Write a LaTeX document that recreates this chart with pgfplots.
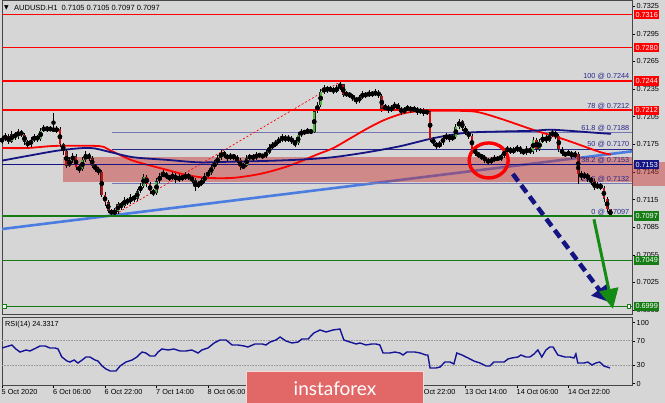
\documentclass[border=0pt]{standalone}
\usepackage{fontspec}
\setmainfont{Liberation Sans}
\newfontfamily\dvfont{DejaVu Sans}
\newfontfamily\logofont{Lato}
\usepackage{pgfplots}
\pgfplotsset{compat=1.18}
\usepackage{pgfplotstable}
\usetikzlibrary{arrows.meta}

\definecolor{bg}{RGB}{214,214,214}
\definecolor{mtred}{RGB}{255,0,0}
\definecolor{mtgreen}{RGB}{22,125,22}
\definecolor{mtnavy}{RGB}{20,20,130}
\definecolor{fibnavy}{RGB}{40,40,140}
\definecolor{fibslate}{RGB}{118,118,180}
\definecolor{trendblue}{RGB}{75,125,225}
\definecolor{bandred}{RGB}{200,45,45}
\definecolor{bull}{RGB}{70,185,55}
\definecolor{bear}{RGB}{200,15,15}
\definecolor{axgray}{RGB}{70,70,70}
\definecolor{logored}{RGB}{226,104,104}
\definecolor{rsiblue}{RGB}{20,20,150}
\definecolor{arrgreen}{RGB}{20,140,20}

\def\lab{\fontsize{7.3}{8}\selectfont}

% hourly AUDUSD candles, bar index i (one bar per hour)
\pgfplotstableread{
i o h l c
0 0.7178 0.7184 0.7176 0.7181
1 0.7181 0.7187 0.7179 0.7184
2 0.7184 0.7186 0.7175 0.7178
3 0.7178 0.7189 0.7176 0.7186
4 0.7186 0.7188 0.7180 0.7183
5 0.7183 0.7192 0.7181 0.7189
6 0.7189 0.7191 0.7183 0.7185
7 0.7185 0.7187 0.7174 0.7178
8 0.7178 0.7180 0.7171 0.7174
9 0.7174 0.7183 0.7172 0.7180
10 0.7180 0.7186 0.7178 0.7183
11 0.7183 0.7185 0.7178 0.7181
12 0.7181 0.7193 0.7179 0.7190
13 0.7190 0.7196 0.7188 0.7193
14 0.7193 0.7195 0.7188 0.7191
15 0.7191 0.7195 0.7189 0.7192
16 0.7192 0.7209 0.7188 0.7190
17 0.7190 0.7195 0.7187 0.7192
18 0.7192 0.7194 0.7172 0.7175
19 0.7175 0.7177 0.7164 0.7168
20 0.7168 0.7170 0.7149 0.7152
21 0.7152 0.7161 0.7150 0.7158
22 0.7158 0.7166 0.7155 0.7162
23 0.7162 0.7164 0.7147 0.7150
24 0.7150 0.7153 0.7144 0.7148
25 0.7148 0.7161 0.7146 0.7158
26 0.7158 0.7168 0.7156 0.7164
27 0.7164 0.7166 0.7157 0.7160
28 0.7160 0.7162 0.7149 0.7152
29 0.7152 0.7154 0.7145 0.7148
30 0.7148 0.7150 0.7142 0.7145
31 0.7145 0.7147 0.7118 0.7120
32 0.7120 0.7123 0.7108 0.7112
33 0.7112 0.7115 0.7100 0.7103
34 0.7103 0.7105 0.7097 0.7100
35 0.7100 0.7106 0.7098 0.7102
36 0.7102 0.7113 0.7099 0.7110
37 0.7110 0.7112 0.7104 0.7108
38 0.7108 0.7118 0.7106 0.7115
39 0.7115 0.7117 0.7109 0.7112
40 0.7112 0.7121 0.7110 0.7118
41 0.7118 0.7120 0.7113 0.7116
42 0.7116 0.7127 0.7114 0.7124
43 0.7124 0.7133 0.7122 0.7130
44 0.7130 0.7143 0.7128 0.7140
45 0.7140 0.7142 0.7129 0.7132
46 0.7132 0.7134 0.7121 0.7124
47 0.7124 0.7126 0.7119 0.7122
48 0.7122 0.7138 0.7120 0.7135
49 0.7135 0.7144 0.7133 0.7141
50 0.7141 0.7147 0.7139 0.7143
51 0.7143 0.7145 0.7137 0.7140
52 0.7140 0.7142 0.7135 0.7138
53 0.7138 0.7145 0.7136 0.7142
54 0.7142 0.7144 0.7133 0.7136
55 0.7136 0.7143 0.7134 0.7140
56 0.7140 0.7142 0.7135 0.7138
57 0.7138 0.7145 0.7136 0.7142
58 0.7142 0.7144 0.7136 0.7139
59 0.7139 0.7141 0.7133 0.7136
60 0.7136 0.7138 0.7124 0.7130
61 0.7130 0.7135 0.7128 0.7132
62 0.7132 0.7138 0.7130 0.7135
63 0.7135 0.7144 0.7133 0.7141
64 0.7141 0.7147 0.7139 0.7144
65 0.7144 0.7153 0.7142 0.7150
66 0.7150 0.7158 0.7148 0.7155
67 0.7155 0.7164 0.7153 0.7160
68 0.7160 0.7169 0.7158 0.7166
69 0.7166 0.7168 0.7160 0.7163
70 0.7163 0.7165 0.7157 0.7160
71 0.7160 0.7166 0.7158 0.7163
72 0.7163 0.7165 0.7158 0.7161
73 0.7161 0.7163 0.7155 0.7158
74 0.7158 0.7160 0.7147 0.7150
75 0.7150 0.7155 0.7148 0.7152
76 0.7152 0.7163 0.7150 0.7160
77 0.7160 0.7165 0.7158 0.7162
78 0.7162 0.7164 0.7157 0.7160
79 0.7160 0.7167 0.7158 0.7164
80 0.7164 0.7166 0.7160 0.7163
81 0.7163 0.7165 0.7159 0.7162
82 0.7162 0.7169 0.7160 0.7166
83 0.7166 0.7175 0.7164 0.7172
84 0.7172 0.7177 0.7170 0.7174
85 0.7174 0.7180 0.7172 0.7177
86 0.7177 0.7183 0.7175 0.7180
87 0.7180 0.7186 0.7178 0.7183
88 0.7183 0.7185 0.7177 0.7180
89 0.7180 0.7185 0.7178 0.7182
90 0.7182 0.7184 0.7175 0.7178
91 0.7178 0.7180 0.7172 0.7176
92 0.7176 0.7188 0.7174 0.7185
93 0.7185 0.7192 0.7183 0.7189
94 0.7189 0.7191 0.7185 0.7188
95 0.7188 0.7193 0.7186 0.7190
96 0.7190 0.7192 0.7186 0.7188
97 0.7188 0.7213 0.7187 0.7211
98 0.7211 0.7221 0.7209 0.7218
99 0.7218 0.7235 0.7216 0.7232
100 0.7232 0.7239 0.7230 0.7236
101 0.7236 0.7238 0.7231 0.7234
102 0.7234 0.7238 0.7232 0.7235
103 0.7235 0.7237 0.7230 0.7233
104 0.7233 0.7239 0.7231 0.7236
105 0.7236 0.7244 0.7234 0.7240
106 0.7240 0.7241 0.7226 0.7229
107 0.7229 0.7233 0.7227 0.7230
108 0.7230 0.7232 0.7225 0.7228
109 0.7228 0.7230 0.7222 0.7225
110 0.7225 0.7227 0.7219 0.7222
111 0.7222 0.7229 0.7220 0.7226
112 0.7226 0.7233 0.7224 0.7230
113 0.7230 0.7232 0.7225 0.7228
114 0.7228 0.7234 0.7226 0.7231
115 0.7231 0.7233 0.7226 0.7229
116 0.7229 0.7235 0.7227 0.7232
117 0.7232 0.7234 0.7225 0.7228
118 0.7228 0.7230 0.7210 0.7214
119 0.7214 0.7219 0.7212 0.7216
120 0.7216 0.7218 0.7209 0.7212
121 0.7212 0.7218 0.7210 0.7215
122 0.7215 0.7221 0.7213 0.7218
123 0.7218 0.7220 0.7211 0.7214
124 0.7214 0.7216 0.7207 0.7210
125 0.7210 0.7216 0.7208 0.7213
126 0.7213 0.7218 0.7211 0.7215
127 0.7215 0.7217 0.7209 0.7212
128 0.7212 0.7217 0.7210 0.7214
129 0.7214 0.7216 0.7207 0.7210
130 0.7210 0.7215 0.7208 0.7212
131 0.7212 0.7214 0.7206 0.7209
132 0.7209 0.7214 0.7207 0.7211
133 0.7211 0.7213 0.7178 0.7181
134 0.7181 0.7183 0.7173 0.7176
135 0.7176 0.7178 0.7170 0.7173
136 0.7173 0.7179 0.7171 0.7176
137 0.7176 0.7185 0.7174 0.7182
138 0.7182 0.7187 0.7180 0.7184
139 0.7184 0.7186 0.7178 0.7181
140 0.7181 0.7186 0.7179 0.7183
141 0.7183 0.7197 0.7181 0.7194
142 0.7194 0.7203 0.7192 0.7200
143 0.7200 0.7201 0.7190 0.7193
144 0.7193 0.7195 0.7185 0.7188
145 0.7188 0.7190 0.7181 0.7184
146 0.7184 0.7186 0.7167 0.7170
147 0.7170 0.7172 0.7162 0.7165
148 0.7165 0.7167 0.7160 0.7163
149 0.7163 0.7165 0.7158 0.7161
150 0.7161 0.7163 0.7155 0.7158
151 0.7158 0.7160 0.7153 0.7156
152 0.7156 0.7161 0.7154 0.7158
153 0.7158 0.7163 0.7156 0.7160
154 0.7160 0.7162 0.7157 0.7159
155 0.7159 0.7165 0.7157 0.7162
156 0.7162 0.7171 0.7160 0.7168
157 0.7168 0.7173 0.7166 0.7170
158 0.7170 0.7172 0.7164 0.7167
159 0.7167 0.7172 0.7165 0.7169
160 0.7169 0.7174 0.7167 0.7171
161 0.7171 0.7173 0.7165 0.7168
162 0.7168 0.7170 0.7163 0.7166
163 0.7166 0.7173 0.7164 0.7170
164 0.7170 0.7172 0.7164 0.7167
165 0.7167 0.7183 0.7165 0.7180
166 0.7180 0.7182 0.7167 0.7170
167 0.7170 0.7181 0.7168 0.7178
168 0.7178 0.7186 0.7176 0.7183
169 0.7183 0.7185 0.7176 0.7179
170 0.7179 0.7188 0.7177 0.7185
171 0.7185 0.7191 0.7183 0.7188
172 0.7188 0.7190 0.7181 0.7184
173 0.7184 0.7186 0.7167 0.7170
174 0.7170 0.7172 0.7162 0.7165
175 0.7165 0.7167 0.7161 0.7164
176 0.7164 0.7169 0.7162 0.7166
177 0.7166 0.7168 0.7159 0.7162
178 0.7162 0.7168 0.7160 0.7165
179 0.7165 0.7167 0.7132 0.7143
180 0.7143 0.7146 0.7136 0.7140
181 0.7140 0.7145 0.7137 0.7142
182 0.7142 0.7144 0.7134 0.7138
183 0.7138 0.7140 0.7131 0.7135
184 0.7135 0.7137 0.7125 0.7128
185 0.7128 0.7134 0.7126 0.7131
186 0.7131 0.7133 0.7125 0.7128
187 0.7128 0.7130 0.7113 0.7116
188 0.7116 0.7118 0.7102 0.7105
189 0.7105 0.7105 0.7097 0.7097
}\candles

\begin{document}
\begin{tikzpicture}[x=1pt,y=1pt]
\useasboundingbox (0,0) rectangle (665,-403);
\clip (0,0) rectangle (665,-403);
\fill[bg] (0,0) rectangle (665,-403);

% ---------------- price panel ----------------
\begin{axis}[
  at={(2pt,0pt)}, anchor=north west,
  width=630pt, height=314pt, scale only axis,
  xmin=0, xmax=195.73, ymin=0.699072, ymax=0.733177,
  axis line style={draw=axgray, line width=0.8pt},
  xtick=\empty,
  ytick={0.6995,0.7025,0.7055,0.7085,0.7115,0.7145,0.7175,0.7205,0.7235,0.7265,0.7295,0.7325},
  ytick pos=right, yticklabel pos=right,
  tick align=outside, major tick length=3pt,
  tick style={draw=black, line width=0.5pt},
  scaled y ticks=false,
  yticklabel style={font=\lab, inner sep=1.5pt,
    /pgf/number format/fixed, /pgf/number format/fixed zerofill,
    /pgf/number format/precision=4},
  /pgf/number format/assume math mode=true,
  unbounded coords=discard,
]
% trend line and zone
\addplot[trendblue, line width=2.6pt] coordinates {(0,0.70830) (195.73,0.71674)};
\fill[bandred, fill opacity=0.45] (axis cs:19,0.71610) rectangle (axis cs:195.73,0.71338);

% fibonacci retracement (background)
\addplot[fibnavy, line width=0.8pt] coordinates {(34.2,0.7335) (195.73,0.7335)};
\addplot[fibnavy, line width=0.8pt] coordinates {(34.2,0.7212) (195.73,0.7212)};
\addplot[fibslate, line width=1pt] coordinates {(34.2,0.7188) (195.73,0.7188)};
\addplot[fibnavy, line width=0.8pt] coordinates {(34.2,0.7170) (195.73,0.7170)};
\addplot[fibslate, line width=1pt] coordinates {(34.2,0.7132) (195.73,0.7132)};
\addplot[mtred, line width=0.7pt, dash pattern=on 2pt off 2pt] coordinates {(34.2,0.7097) (105.6,0.7244)};
\begin{scope}[every node/.style={anchor=south east, text=fibnavy, font=\lab, inner sep=0.8pt}]
\node at (axis cs:195.2,0.7335) {161.8 @ 0.7335};
\node at (axis cs:195.2,0.7244) {100 @ 0.7244};
\node at (axis cs:195.2,0.7212) {78 @ 0.7212};
\node at (axis cs:195.2,0.7188) {61.8 @ 0.7188};
\node at (axis cs:195.2,0.7170) {50 @ 0.7170};
\node at (axis cs:195.2,0.7153) {38.2 @ 0.7153};
\node at (axis cs:195.2,0.7132) {23.6 @ 0.7132};
\node at (axis cs:195.2,0.7097) {0 @ 0.7097};
\end{scope}

% moving averages
\addplot[mtred, line width=1.8pt, smooth] coordinates {
(0,0.7171) (7.8,0.7171) (14.9,0.7173) (20.2,0.71735) (30.4,0.7173) (33.6,0.71685)
(40.7,0.71573) (51.3,0.71472) (57.5,0.71416) (63.7,0.71386) (71.8,0.71386) (80.1,0.71428)
(87.3,0.71495) (92.6,0.71562) (97.9,0.7164) (102.8,0.71707) (108.1,0.71813) (113.4,0.7192)
(118.4,0.72009) (123.6,0.72076) (127.7,0.72104) (133,0.72115) (139.2,0.72115) (147.2,0.72104)
(154.7,0.72031) (165,0.71908) (175.2,0.71797) (185.8,0.71666) (189.2,0.7164)};
\addplot[mtnavy, line width=1.8pt, smooth] coordinates {
(0,0.71573) (8.7,0.71629) (18,0.71685) (27.3,0.71711) (33.6,0.71666) (40.7,0.7161)
(51.3,0.71581) (61.5,0.71554) (71.8,0.71562) (82.3,0.7157) (92.6,0.71584) (102.8,0.7161)
(113.1,0.71662) (123.6,0.71729) (133.9,0.71816) (144.1,0.71875) (154.7,0.71889) (165,0.71897)
(171.2,0.71908) (185.8,0.71872) (189.2,0.71864)};
\addplot[mtnavy, line width=1.4pt] coordinates {(0,0.7153) (195.73,0.7153)};

% candles: wicks, then bodies (black edge, coloured core)
\addplot[only marks, mark=none, error bars/.cd, y dir=both, y explicit, error mark=none,
  error bar style={line width=0.7pt, black}]
  table[x=i, y expr={(\thisrow{h}+\thisrow{l})/2}, y error expr={(\thisrow{h}-\thisrow{l})/2}] {\candles};
\addplot[only marks, mark=none, error bars/.cd, y dir=both, y explicit, error mark=none,
  error bar style={line width=2.8pt, black!85}]
  table[x=i, y expr={(\thisrow{o}+\thisrow{c})/2}, y error expr={abs(\thisrow{c}-\thisrow{o})/2}] {\candles};
\addplot[only marks, mark=none, error bars/.cd, y dir=both, y explicit, error mark=none,
  error bar style={line width=2.0pt, bull}]
  table[x expr={\thisrow{c}>=\thisrow{o} ? \thisrow{i} : nan}, y expr={(\thisrow{o}+\thisrow{c})/2},
        y error expr={max(abs(\thisrow{c}-\thisrow{o})/2-0.00003,0)}] {\candles};
\addplot[only marks, mark=none, error bars/.cd, y dir=both, y explicit, error mark=none,
  error bar style={line width=2.0pt, bear}]
  table[x expr={\thisrow{c}<\thisrow{o} ? \thisrow{i} : nan}, y expr={(\thisrow{o}+\thisrow{c})/2},
        y error expr={max(abs(\thisrow{c}-\thisrow{o})/2-0.00003,0)}] {\candles};

% horizontal levels
\addplot[mtred, line width=1.6pt] coordinates {(0,0.7316) (195.73,0.7316)};
\addplot[mtred, line width=1.6pt] coordinates {(0,0.7280) (195.73,0.7280)};
\addplot[mtred, line width=1.6pt] coordinates {(0,0.7244) (195.73,0.7244)};
\addplot[mtred, line width=1.6pt] coordinates {(0,0.7212) (195.73,0.7212)};
\addplot[mtgreen, line width=1.4pt] coordinates {(0,0.7097) (195.73,0.7097)};
\addplot[mtgreen, line width=1.2pt] coordinates {(0,0.7049) (195.73,0.7049)};
\addplot[mtgreen, line width=1.2pt] coordinates {(0,0.6999) (195.73,0.6999)};
\node[draw=mtgreen, fill=white, minimum size=3.5pt, inner sep=0pt, line width=0.6pt] at (axis cs:0.7,0.6999) {};
\node[draw=mtgreen, fill=white, minimum size=3.5pt, inner sep=0pt, line width=0.6pt] at (axis cs:194.8,0.6999) {};

% annotations
\draw[red, line width=3.4pt] (axis cs:151.2,0.71575) ellipse [x radius=19.5pt, y radius=17.5pt];
\draw[mtnavy, line width=4.5pt, dash pattern=on 9pt off 5pt, -{Triangle[length=15pt, width=19pt]}]
  (axis cs:158.7,0.71428) -- (axis cs:188.3,0.70041);
\draw[arrgreen, line width=3pt, -{Triangle[length=20pt, width=19pt]}]
  (axis cs:183.9,0.70936) -- (axis cs:189.8,0.69963);

\coordinate (q7316) at (axis cs:195.73,0.7316);
\coordinate (q7280) at (axis cs:195.73,0.7280);
\coordinate (q7244) at (axis cs:195.73,0.7244);
\coordinate (q7212) at (axis cs:195.73,0.7212);
\coordinate (q7153) at (axis cs:195.73,0.7153);
\coordinate (q7097) at (axis cs:195.73,0.7097);
\coordinate (q7049) at (axis cs:195.73,0.7049);
\coordinate (q6999) at (axis cs:195.73,0.6999);
\end{axis}

% zone continues over the price scale
\fill[bandred, fill opacity=0.45] (632,-161.7) rectangle (665,-186);
\foreach \n/\t/\c in {q7316/0.7316/mtred, q7280/0.7280/mtred, q7244/0.7244/mtred,
    q7212/0.7212/mtred, q7153/0.7153/mtnavy, q7097/0.7097/mtgreen,
    q7049/0.7049/mtgreen, q6999/0.6999/mtgreen}
  \node[anchor=west, fill=\c, text=white, font=\lab, inner sep=1.3pt, minimum height=9.5pt]
    at ([xshift=2pt]\n) {\t};

% ---------------- RSI panel ----------------
\begin{axis}[
  at={(2pt,-317pt)}, anchor=north west,
  width=630pt, height=68pt, scale only axis,
  xmin=0, xmax=195.73, ymin=-2.46, ymax=109,
  axis line style={draw=axgray, line width=0.8pt},
  ytick={0,30,70,100},
  ytick pos=right, yticklabel pos=right,
  xtick={0,16,...,176},
  xticklabels={5 Oct 2020, 6 Oct 06:00, 6 Oct 22:00, 7 Oct 14:00, 8 Oct 06:00, 8 Oct 22:00,
    9 Oct 14:00, 12 Oct 06:00, 12 Oct 22:00, 13 Oct 14:00, 14 Oct 06:00, 14 Oct 22:00},
  xtick pos=left,
  tick align=outside, major tick length=3pt,
  tick style={draw=black, line width=0.5pt},
  xticklabel style={font=\lab, anchor=north west, xshift=-1.5pt, inner sep=1pt},
  yticklabel style={font=\lab, inner sep=1.5pt},
  /pgf/number format/assume math mode=true,
]
\addplot[gray!80, densely dotted, line width=0.6pt] coordinates {(0,70) (195.73,70)};
\addplot[gray!80, densely dotted, line width=0.6pt] coordinates {(0,30) (195.73,30)};
\addplot[rsiblue, line width=1.4pt] coordinates {
(0,58.2) (3.1,63.1) (4.3,56.6) (5.6,51.6) (7.5,54.9) (8.7,53.3) (10.6,58.2) (11.8,61.5)
(13.4,61.5) (14.9,58.2) (16.5,58.2) (17.4,56.6) (18.6,43.4) (20.2,36.9) (21.1,35.2) (22.4,38.5)
(23.6,33.6) (24.9,38.5) (26.1,43.4) (27.3,43.4) (28.9,38.5) (29.8,36.9) (31.1,28.7) (32.3,23.8)
(33.6,20.5) (35.4,20.5) (36.7,28.7) (38.5,35.2) (40.4,38.5) (41.9,43.4) (43.5,51.6) (44.7,50)
(46,45.1) (47.5,45.1) (48.5,51.6) (49.7,56.6) (51.6,54.9) (53.4,56.6) (55.3,53.3) (57.2,53.3)
(59,54.9) (60.9,50) (62.1,54.9) (64,58.2) (65.9,66.4) (67.7,71.3) (69.6,71.3) (71.5,63.1)
(73.3,63.1) (75.2,61.5) (76.4,59.8) (78.6,64.8) (80.8,64.8) (82,63.1) (83.3,68) (85.1,71.3)
(86.4,76.2) (88.2,69.7) (90.1,66.4) (92,68) (93.2,73) (95.1,73) (96.9,82.8) (98.8,87.7)
(100.7,84.4) (102.8,87.7) (105,89.3) (106.2,71.3) (108.1,68) (110,64.8) (111.2,66.4) (113.1,63.1)
(114.9,64.8) (116.2,64.8) (117.4,63.1) (118.4,50) (120.5,50) (122.1,51.6) (123.6,50) (124.6,46.7)
(125.8,51.6) (128.3,51.6) (129.9,50) (131.7,46.7) (132.3,46.7) (133,25.4) (134.8,25.4) (136.1,27)
(137.6,35.2) (139.2,35.2) (140.4,32) (141.3,50) (142.9,46.7) (144.8,41.8) (146.6,36.9) (148.5,33.6)
(150.4,28.7) (151.6,28.7) (152.8,35.2) (156,35.2) (157.2,40.2) (158.4,41.8) (160.3,43.4) (161.2,46.7)
(162.8,43.4) (164,43.4) (165.3,48.4) (166.5,54.9) (167.7,43.4) (169,54.9) (170.2,59.8) (171.2,59.8)
(172.7,46.7) (174.9,43.4) (176.5,43.4) (177.7,41.8) (178.3,48.4) (178.9,33.6) (180.8,33.6) (182,35.2)
(183.3,30.3) (184.5,33.6) (185.7,35.2) (187,28.7) (188.9,25.4)};
\end{axis}

% header texts
\node[anchor=west, font={\dvfont\fontsize{6}{6}\selectfont}, inner sep=0pt] at (4,-8) {▼};
\node[anchor=west, font=\fontsize{7.5}{8}\selectfont, inner sep=0pt] at (14,-8)
  {AUDUSD.H1\ \ 0.7105 0.7105 0.7097 0.7097};
\node[anchor=west, font=\lab, inner sep=0pt] at (5,-325) {RSI(14) 24.3317};

% watermark
\node[anchor=north west, fill=logored, draw=white!75!logored, line width=1pt,
  minimum width=177pt, minimum height=34pt, text=white,
  font={\logofont\fontsize{19}{22}\selectfont}] at (246,-371) {instaforex};
\end{tikzpicture}
\end{document}
